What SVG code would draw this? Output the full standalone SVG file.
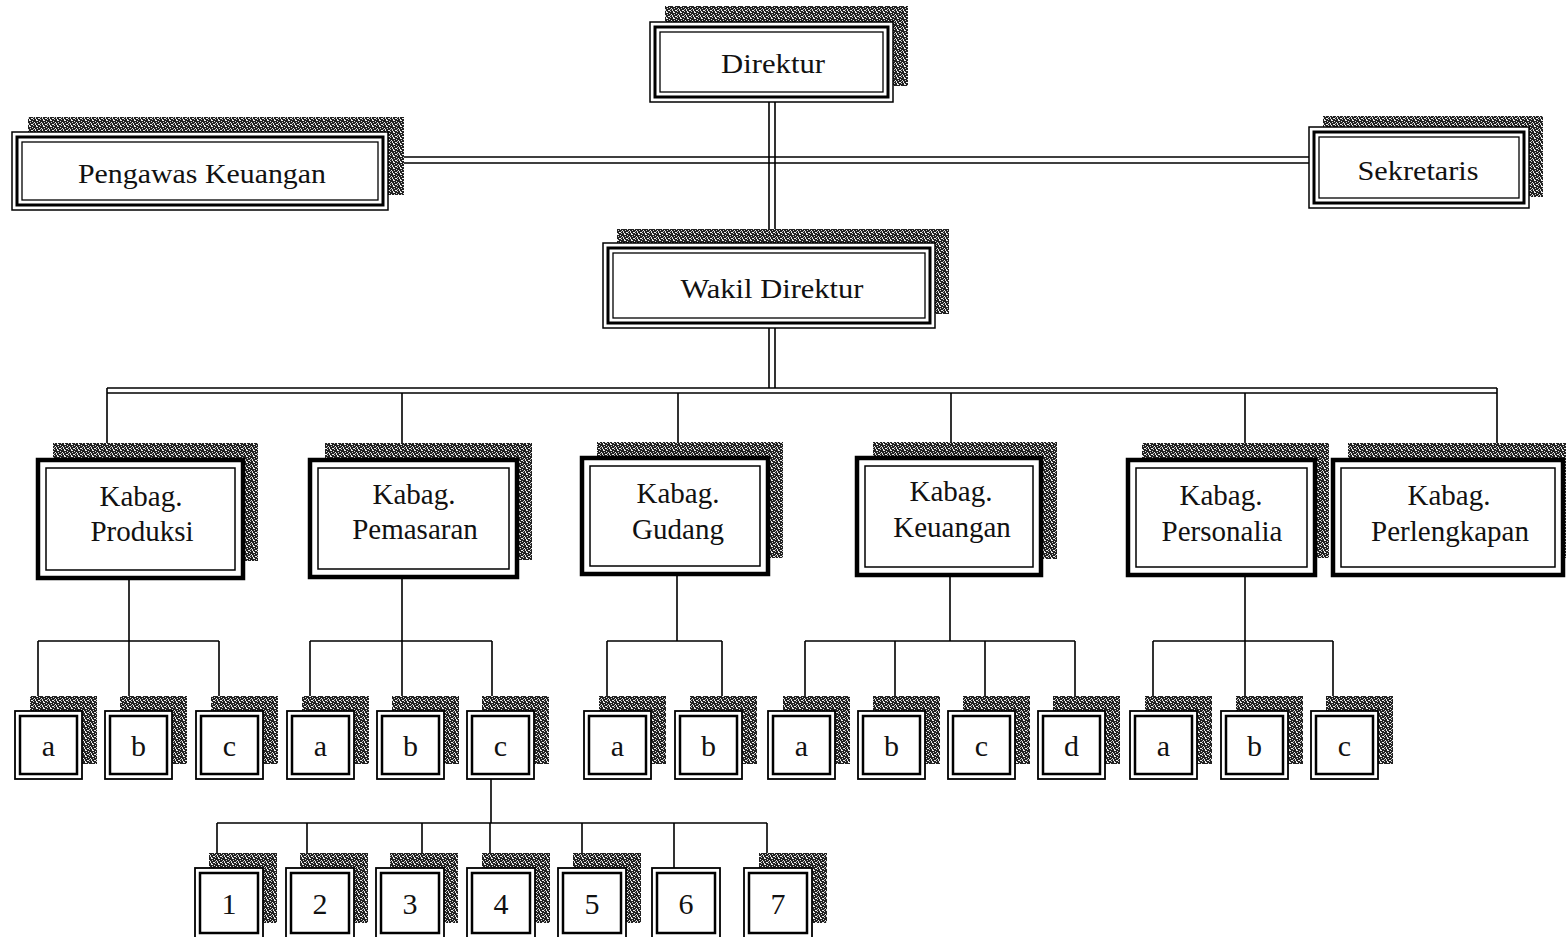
<svg xmlns="http://www.w3.org/2000/svg" width="1566" height="937" viewBox="0 0 1566 937">
<defs>
<pattern id="ht" width="7" height="6" patternUnits="userSpaceOnUse">
<rect width="7" height="6" fill="#222"/>
<rect x="1" y="0" width="2" height="1" fill="#eee"/>
<rect x="4" y="1" width="1" height="1" fill="#ddd"/>
<rect x="6" y="2" width="1" height="1" fill="#eee"/>
<rect x="2" y="2" width="1" height="1" fill="#ccc"/>
<rect x="0" y="3" width="1" height="2" fill="#ddd"/>
<rect x="3" y="4" width="2" height="1" fill="#eee"/>
<rect x="5" y="5" width="1" height="1" fill="#ccc"/>
<rect x="1" y="5" width="1" height="1" fill="#eee"/>
<rect x="5" y="3" width="1" height="1" fill="#bbb"/>
</pattern>
</defs>
<style>
.sh{fill:url(#ht)}
.b1{fill:#fff;stroke:#000;stroke-width:1.5}
.b2{fill:none;stroke:#000;stroke-width:3}
.b3{fill:none;stroke:#000;stroke-width:1.3}
.k1{fill:#fff;stroke:#000;stroke-width:4.5}
.k2{fill:none;stroke:#000;stroke-width:1.5}
.s1{fill:#fff;stroke:#000;stroke-width:1.8}
.s2{fill:none;stroke:#000;stroke-width:2.5}
.ln{stroke:#000;stroke-width:1.6;fill:none}
text{font-family:"Liberation Serif","Times New Roman",serif;font-size:28px;fill:#111;text-anchor:middle}
.kt{font-size:29px}
.st{font-size:30px}
</style>
<rect width="1566" height="937" fill="#fff"/>

<g id="connectors">
<path class="ln" d="M769,102V243M775,102V243"/>
<path class="ln" d="M388,157H1309M388,163H1309"/>
<path class="ln" d="M769,328V388M775,328V388"/>
<path class="ln" d="M107,388H1497M107,393H1497M107,388V460M1497,388V460M402,393V460M678,393V458M951,393V458M1245,393V460"/>
<path class="ln" d="M129,578V641M38,641H219M38,641V711M129,641V711M219,641V711"/>
<path class="ln" d="M402,577V641M310,641H492M310,641V711M402,641V711M492,641V711"/>
<path class="ln" d="M677,574V641M607,641H722M607,641V711M722,641V711"/>
<path class="ln" d="M950,575V641M805,641H1075M805,641V711M895,641V711M985,641V711M1075,641V711"/>
<path class="ln" d="M1245,575V641M1153,641H1333M1153,641V711M1245,641V711M1333,641V711"/>
<path class="ln" d="M491,779V823M217,823H767M217,823V868M307,823V868M422,823V868M490,823V868M582,823V868M674,823V868M767,823V868"/>
</g>

<g id="direktur">
<rect class="sh" x="665" y="6" width="243" height="80"/>
<rect class="b1" x="650" y="22" width="243" height="80"/>
<rect class="b2" x="655" y="27" width="233" height="70"/>
<rect class="b3" x="660" y="32" width="223" height="60"/>
<text x="773" y="73" textLength="104" lengthAdjust="spacingAndGlyphs">Direktur</text>
</g>
<g id="pengawas">
<rect class="sh" x="28" y="117" width="376" height="78"/>
<rect class="b1" x="12" y="132" width="376" height="78"/>
<rect class="b2" x="17" y="137" width="366" height="68"/>
<rect class="b3" x="22" y="142" width="356" height="58"/>
<text x="202" y="183" textLength="248" lengthAdjust="spacingAndGlyphs">Pengawas Keuangan</text>
</g>
<g id="sekretaris">
<rect class="sh" x="1323" y="116" width="220" height="81"/>
<rect class="b1" x="1309" y="127" width="220" height="81"/>
<rect class="b2" x="1314" y="132" width="210" height="71"/>
<rect class="b3" x="1319" y="137" width="200" height="61"/>
<text x="1418" y="180" textLength="121" lengthAdjust="spacingAndGlyphs">Sekretaris</text>
</g>
<g id="wakil">
<rect class="sh" x="617" y="229" width="332" height="85"/>
<rect class="b1" x="603" y="243" width="332" height="85"/>
<rect class="b2" x="608" y="248" width="322" height="75"/>
<rect class="b3" x="613" y="253" width="312" height="65"/>
<text x="772" y="298" textLength="183" lengthAdjust="spacingAndGlyphs">Wakil Direktur</text>
</g>

<g id="kabag-produksi">
<rect class="sh" x="53" y="443" width="205" height="118"/>
<rect class="k1" x="38" y="460" width="205" height="118"/>
<rect class="k2" x="46" y="468" width="189" height="102"/>
<text class="kt" x="141" y="506">Kabag.</text><text class="kt" x="142" y="541">Produksi</text>
</g>
<g id="kabag-pemasaran">
<rect class="sh" x="325" y="443" width="207" height="117"/>
<rect class="k1" x="310" y="460" width="207" height="117"/>
<rect class="k2" x="318" y="468" width="191" height="101"/>
<text class="kt" x="414" y="504">Kabag.</text><text class="kt" x="415" y="539">Pemasaran</text>
</g>
<g id="kabag-gudang">
<rect class="sh" x="597" y="442" width="186" height="116"/>
<rect class="k1" x="582" y="458" width="186" height="116"/>
<rect class="k2" x="590" y="466" width="170" height="100"/>
<text class="kt" x="678" y="503">Kabag.</text><text class="kt" x="678" y="539">Gudang</text>
</g>
<g id="kabag-keuangan">
<rect class="sh" x="873" y="442" width="184" height="117"/>
<rect class="k1" x="857" y="458" width="184" height="117"/>
<rect class="k2" x="865" y="466" width="168" height="101"/>
<text class="kt" x="951" y="501">Kabag.</text><text class="kt" x="952" y="537">Keuangan</text>
</g>
<g id="kabag-personalia">
<rect class="sh" x="1142" y="443" width="187" height="115"/>
<rect class="k1" x="1128" y="460" width="187" height="115"/>
<rect class="k2" x="1136" y="468" width="171" height="99"/>
<text class="kt" x="1221" y="505">Kabag.</text><text class="kt" x="1222" y="541">Personalia</text>
</g>
<g id="kabag-perlengkapan">
<rect class="sh" x="1348" y="443" width="230" height="115"/>
<rect class="k1" x="1333" y="460" width="230" height="115"/>
<rect class="k2" x="1341" y="468" width="214" height="99"/>
<text class="kt" x="1449" y="505">Kabag.</text><text class="kt" x="1450" y="541">Perlengkapan</text>
</g>

<g id="produksi-a"><rect class="sh" x="30" y="696" width="67" height="68"/><rect class="s1" x="15" y="711" width="67" height="68"/><rect class="s2" x="20" y="716" width="57" height="58"/><text class="st" x="48.5" y="756">a</text></g>
<g id="produksi-b"><rect class="sh" x="120" y="696" width="67" height="68"/><rect class="s1" x="105" y="711" width="67" height="68"/><rect class="s2" x="110" y="716" width="57" height="58"/><text class="st" x="138.5" y="756">b</text></g>
<g id="produksi-c"><rect class="sh" x="211" y="696" width="67" height="68"/><rect class="s1" x="196" y="711" width="67" height="68"/><rect class="s2" x="201" y="716" width="57" height="58"/><text class="st" x="229.5" y="756">c</text></g>

<g id="pemasaran-a"><rect class="sh" x="302" y="696" width="67" height="68"/><rect class="s1" x="287" y="711" width="67" height="68"/><rect class="s2" x="292" y="716" width="57" height="58"/><text class="st" x="320.5" y="756">a</text></g>
<g id="pemasaran-b"><rect class="sh" x="392" y="696" width="67" height="68"/><rect class="s1" x="377" y="711" width="67" height="68"/><rect class="s2" x="382" y="716" width="57" height="58"/><text class="st" x="410.5" y="756">b</text></g>
<g id="pemasaran-c"><rect class="sh" x="482" y="696" width="67" height="68"/><rect class="s1" x="467" y="711" width="67" height="68"/><rect class="s2" x="472" y="716" width="57" height="58"/><text class="st" x="500.5" y="756">c</text></g>

<g id="gudang-a"><rect class="sh" x="599" y="696" width="67" height="68"/><rect class="s1" x="584" y="711" width="67" height="68"/><rect class="s2" x="589" y="716" width="57" height="58"/><text class="st" x="617.5" y="756">a</text></g>
<g id="gudang-b"><rect class="sh" x="690" y="696" width="67" height="68"/><rect class="s1" x="675" y="711" width="67" height="68"/><rect class="s2" x="680" y="716" width="57" height="58"/><text class="st" x="708.5" y="756">b</text></g>

<g id="keuangan-a"><rect class="sh" x="783" y="696" width="67" height="68"/><rect class="s1" x="768" y="711" width="67" height="68"/><rect class="s2" x="773" y="716" width="57" height="58"/><text class="st" x="801.5" y="756">a</text></g>
<g id="keuangan-b"><rect class="sh" x="873" y="696" width="67" height="68"/><rect class="s1" x="858" y="711" width="67" height="68"/><rect class="s2" x="863" y="716" width="57" height="58"/><text class="st" x="891.5" y="756">b</text></g>
<g id="keuangan-c"><rect class="sh" x="963" y="696" width="67" height="68"/><rect class="s1" x="948" y="711" width="67" height="68"/><rect class="s2" x="953" y="716" width="57" height="58"/><text class="st" x="981.5" y="756">c</text></g>
<g id="keuangan-d"><rect class="sh" x="1053" y="696" width="67" height="68"/><rect class="s1" x="1038" y="711" width="67" height="68"/><rect class="s2" x="1043" y="716" width="57" height="58"/><text class="st" x="1071.5" y="756">d</text></g>

<g id="personalia-a"><rect class="sh" x="1145" y="696" width="67" height="68"/><rect class="s1" x="1130" y="711" width="67" height="68"/><rect class="s2" x="1135" y="716" width="57" height="58"/><text class="st" x="1163.5" y="756">a</text></g>
<g id="personalia-b"><rect class="sh" x="1236" y="696" width="67" height="68"/><rect class="s1" x="1221" y="711" width="67" height="68"/><rect class="s2" x="1226" y="716" width="57" height="58"/><text class="st" x="1254.5" y="756">b</text></g>
<g id="personalia-c"><rect class="sh" x="1326" y="696" width="67" height="68"/><rect class="s1" x="1311" y="711" width="67" height="68"/><rect class="s2" x="1316" y="716" width="57" height="58"/><text class="st" x="1344.5" y="756">c</text></g>

<g id="sub-1"><rect class="sh" x="209" y="853" width="68" height="70"/><rect class="s1" x="195" y="868" width="68" height="70"/><rect class="s2" x="200" y="873" width="58" height="60"/><text class="st" x="229" y="914">1</text></g>
<g id="sub-2"><rect class="sh" x="300" y="853" width="68" height="70"/><rect class="s1" x="286" y="868" width="68" height="70"/><rect class="s2" x="291" y="873" width="58" height="60"/><text class="st" x="320" y="914">2</text></g>
<g id="sub-3"><rect class="sh" x="390" y="853" width="68" height="70"/><rect class="s1" x="376" y="868" width="68" height="70"/><rect class="s2" x="381" y="873" width="58" height="60"/><text class="st" x="410" y="914">3</text></g>
<g id="sub-4"><rect class="sh" x="482" y="853" width="68" height="70"/><rect class="s1" x="467" y="868" width="68" height="70"/><rect class="s2" x="472" y="873" width="58" height="60"/><text class="st" x="501" y="914">4</text></g>
<g id="sub-5"><rect class="sh" x="573" y="853" width="68" height="70"/><rect class="s1" x="558" y="868" width="68" height="70"/><rect class="s2" x="563" y="873" width="58" height="60"/><text class="st" x="592" y="914">5</text></g>
<g id="sub-6"><rect class="s1" x="652" y="868" width="68" height="70"/><rect class="s2" x="657" y="873" width="58" height="60"/><text class="st" x="686" y="914">6</text></g>
<g id="sub-7"><rect class="sh" x="759" y="853" width="68" height="70"/><rect class="s1" x="744" y="868" width="68" height="70"/><rect class="s2" x="749" y="873" width="58" height="60"/><text class="st" x="778" y="914">7</text></g>
</svg>
